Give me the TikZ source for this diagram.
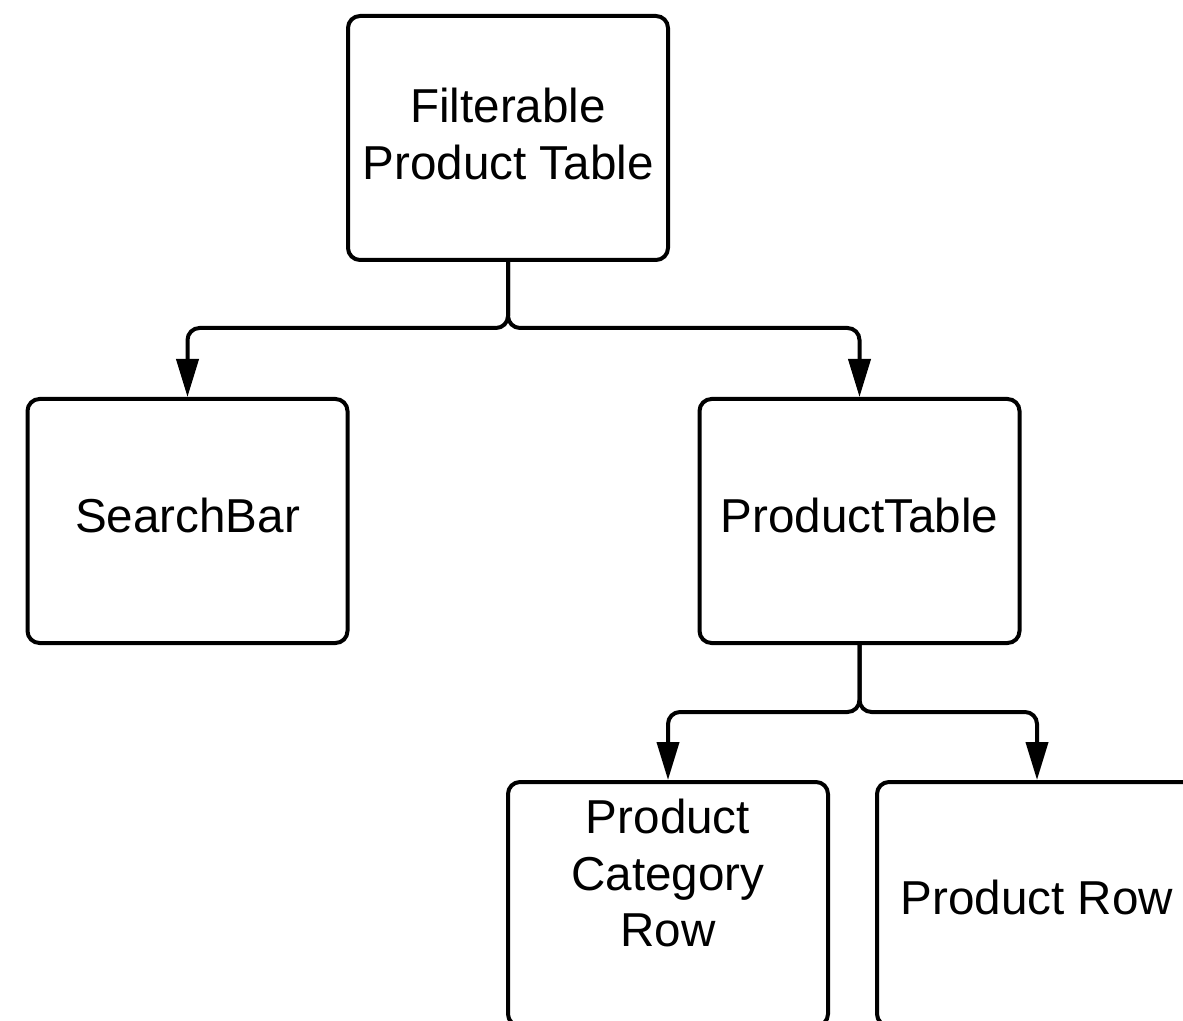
\documentclass[tikz,border=0pt]{standalone}
\usepackage{fontspec}
\setmainfont{Liberation Sans}
\usetikzlibrary{arrows.meta}
\tikzset{
  box/.style={draw, line width=2pt, rounded corners=6pt, minimum width=160pt, minimum height=122pt, inner sep=0pt, fill=white},
  lbl/.style={align=center, font=\fontsize{23.8}{28.4}\selectfont, inner sep=0pt},
  conn/.style={line width=2pt, rounded corners=6pt, -{Triangle[length=19pt,width=11pt]}}
}
\begin{document}
\begin{tikzpicture}[x=0.5pt,y=-0.5pt]
\useasboundingbox (0,0) rectangle (1183,1021);
\clip (0,0) rectangle (1183,1021);
\node[box] (fpt) at (508,138) {};
\node[lbl] (fptt) at (508,134) {Filterable\\Product Table};
\node[box] (sb) at (187.5,521) {};
\node[lbl] (sbt) at (187.5,515) {SearchBar};
\node[box] (pt) at (859.5,521) {};
\node[lbl] (ptt) at (859.5,515) {ProductTable};
\node[box] (pcr) at (668,904) {};
\node[lbl] (pcrt) at (668,873) {Product\\Category\\Row};
\node[box] (pr) at (1037,904) {};
\node[lbl] (prt) at (1037,897) {Product Row};
\coordinate (j1) at (508,328);
\coordinate (j2) at (859.5,712);
\draw[conn] (fpt.south) -- (j1) -| (sb.north);
\draw[conn] (fpt.south) -- (j1) -| (pt.north);
\draw[conn] (pt.south) -- (j2) -| (pcr.north);
\draw[conn] (pt.south) -- (j2) -| (pr.north);
\end{tikzpicture}
\end{document}
